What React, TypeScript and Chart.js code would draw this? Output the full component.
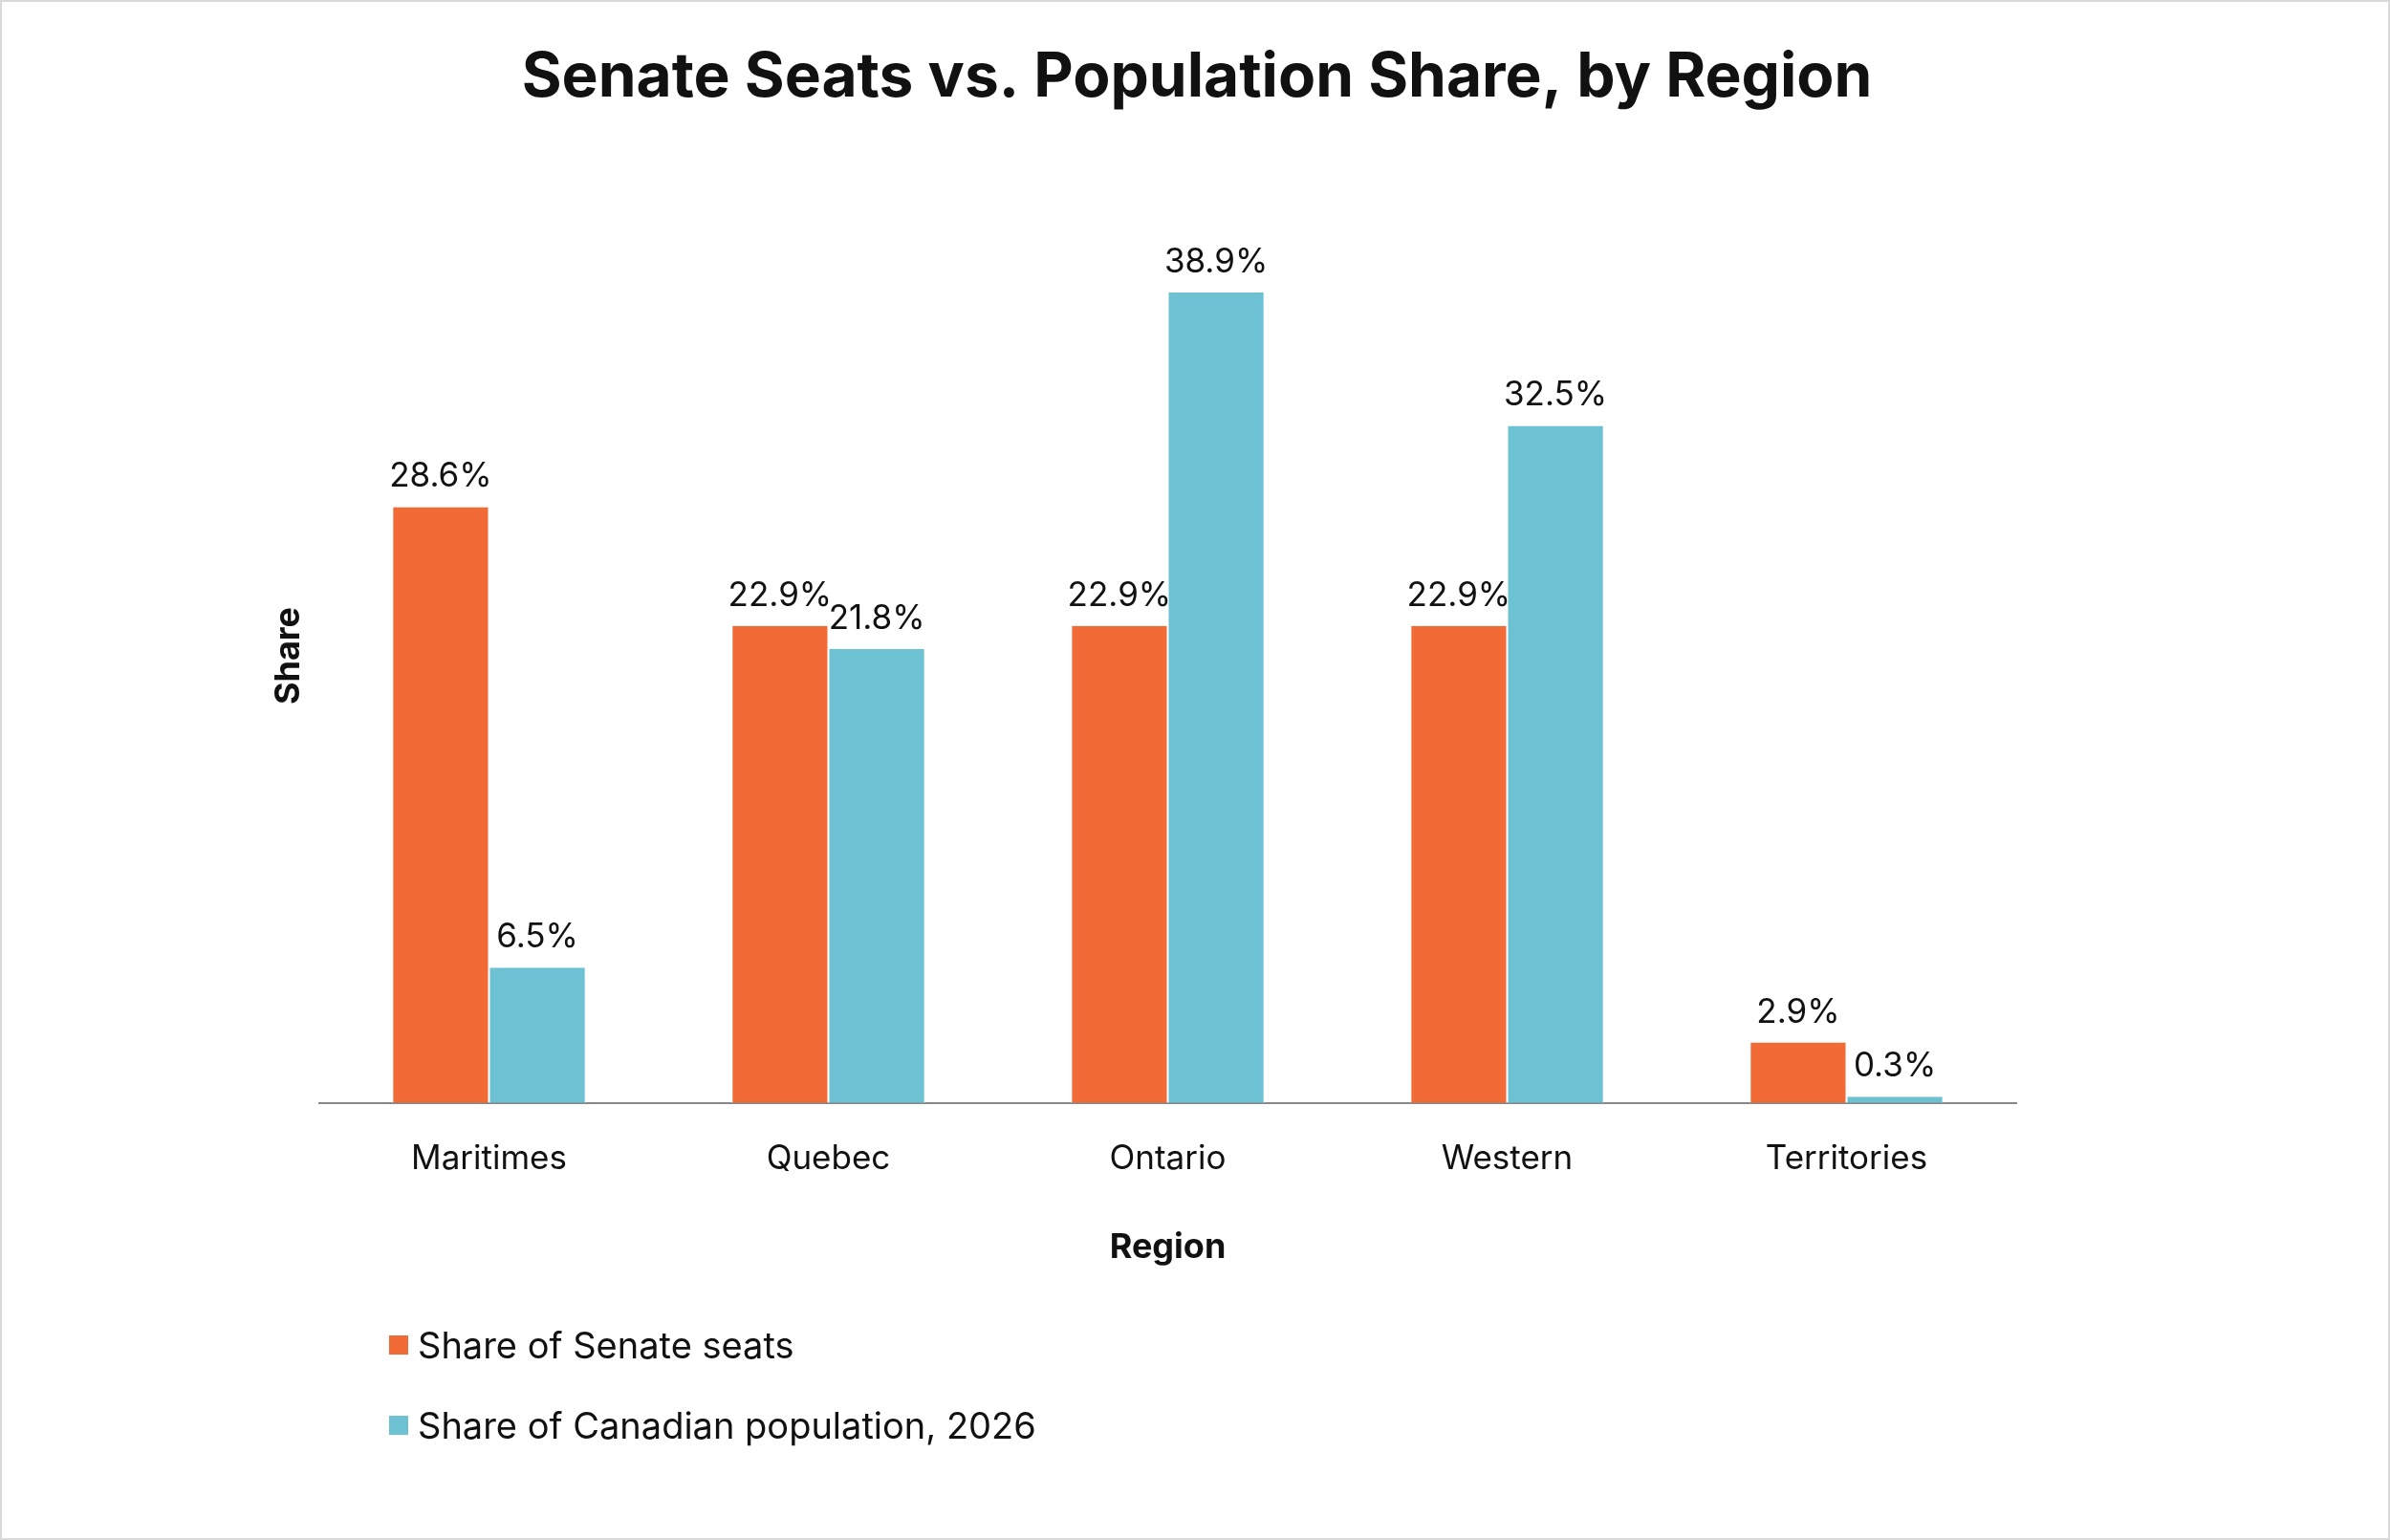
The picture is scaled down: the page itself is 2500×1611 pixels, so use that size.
import React, { useEffect, useRef } from "react";
import { Chart, registerables } from "chart.js";
Chart.register(...registerables);

const categories = ["Maritimes", "Quebec", "Ontario", "Western", "Territories"];
const senateShare = [28.6, 22.9, 22.9, 22.9, 2.9];
const popShare = [6.5, 21.8, 38.9, 32.5, 0.3];
const seriesNames = ["Share of Senate seats", "Share of Canadian population, 2026"];
const colors = ["#F26B36", "#6CC2D3"];
const FONT = "Inter, 'Noto Sans', sans-serif";

export default function App() {
  const ref = useRef<HTMLCanvasElement>(null);
  useEffect(() => {
    document.body.style.margin = "0";
    const extras = {
      id: "extras",
      afterDatasetsDraw(chart: any) {
        const ctx = chart.ctx;
        ctx.save();
        ctx.fillStyle = "#111";
        ctx.textAlign = "center";
        ctx.textBaseline = "bottom";
        ctx.font = `35px ${FONT}`;
        chart.data.datasets.forEach((ds: any, i: number) => {
          chart.getDatasetMeta(i).data.forEach((bar: any, j: number) => {
            ctx.fillText(ds.data[j].toFixed(1) + "%", bar.x, bar.y - 14);
          });
        });
        ctx.font = `bold 64px ${FONT}`;
        ctx.textBaseline = "middle";
        ctx.fillText("Senate Seats vs. Population Share, by Region", 1250, 80);
        ctx.translate(300, 684);
        ctx.rotate(-Math.PI / 2);
        ctx.font = `bold 36px ${FONT}`;
        ctx.fillText("Share", 0, 0);
        ctx.restore();
      },
    };
    const chart = new Chart(ref.current!, {
      type: "bar",
      data: {
        labels: categories,
        datasets: [senateShare, popShare].map((d, i) => ({
          label: seriesNames[i],
          data: d,
          backgroundColor: colors[i],
          borderColor: "#fff",
          borderWidth: { left: 1, right: 1, top: 0, bottom: 0 },
          categoryPercentage: 0.57,
          barPercentage: 1,
        })),
      },
      options: {
        animation: false,
        responsive: false,
        layout: { padding: { left: 332, right: 389, top: 171, bottom: 278 } },
        plugins: { legend: { display: false }, tooltip: { enabled: false } },
        scales: {
          y: { display: false, min: 0, max: 45 },
          x: {
            grid: { display: false },
            border: { display: true, color: "#888", width: 2 },
            ticks: { color: "#111", font: { size: 35, family: FONT }, padding: 30 },
            title: { display: true, text: "Region", color: "#111", font: { size: 36, weight: "bold", family: FONT }, padding: { top: 20 } },
          },
        },
      },
      plugins: [extras],
    });
    return () => chart.destroy();
  }, []);
  return (
    <div style={{ position: "relative", width: 2500, height: 1611, boxSizing: "border-box", border: "2px solid #d9d9d9", background: "#fff", fontFamily: FONT }}>
      <canvas ref={ref} width={2496} height={1607} style={{ position: "absolute", left: 0, top: 0 }} />
      {seriesNames.map((n, i) => (
        <div key={n} style={{ position: "absolute", left: 405, top: 1382 + i * 84, display: "flex", alignItems: "center", fontSize: 38, color: "#111" }}>
          <span style={{ width: 20, height: 20, background: colors[i], marginRight: 10, display: "inline-block" }} />
          {n}
        </div>
      ))}
    </div>
  );
}
